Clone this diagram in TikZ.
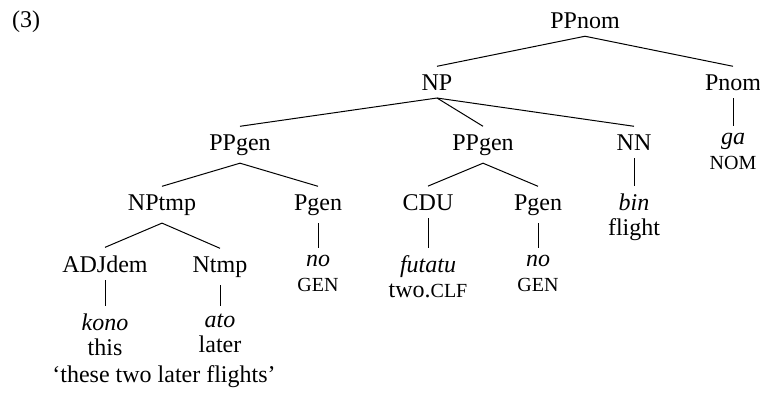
\documentclass[tikz,border=0pt]{standalone}
\usepackage{fontspec}
\setmainfont{Liberation Serif}
\newcommand\smc[1]{{\fontsize{10}{12.5}\selectfont #1}}
\begin{document}
\begin{tikzpicture}[x=0.5pt,y=-0.5pt,
  cat/.style={anchor=base, inner sep=0pt, outer sep=0pt, outer ysep=4pt, font=\fontsize{12}{12.5}\selectfont},
  leaf/.style={anchor=north, inner sep=0pt, outer sep=0pt, outer ysep=4pt, align=center, font=\fontsize{12}{12.5}\selectfont},
  plain/.style={anchor=base, inner sep=0pt, font=\fontsize{12}{12.5}\selectfont},
  branch/.style={line width=0.5pt}]
\useasboundingbox (0,0) rectangle (760,392);
% example number
\node[plain] (ex) at (26,27) {(3)};
% categories
\node[cat] (PPnom) at (585,28) {PPnom};
\node[cat] (NP) at (437,90) {NP};
\node[cat] (Pnom) at (733,90) {Pnom};
\node[cat] (PPgenA) at (240,150) {PPgen};
\node[cat] (PPgenB) at (483,150) {PPgen};
\node[cat] (NN) at (634,150) {NN};
\node[cat] (NPtmp) at (162,210) {NPtmp};
\node[cat] (PgenA) at (318,210) {Pgen};
\node[cat] (CDU) at (428,210) {CDU};
\node[cat] (PgenB) at (538,210) {Pgen};
\node[cat] (ADJdem) at (105,272) {ADJdem};
\node[cat] (Ntmp) at (220,272) {Ntmp};
% leaves
\node[leaf] (ga) at (733,125.6) {\textit{ga}\\\smc{NOM}};
\node[leaf] (bin) at (634,185.6) {\textit{bin}\\flight};
\node[leaf] (noA) at (318,247.6) {\textit{no}\\\smc{GEN}};
\node[leaf] (futatu) at (428,247.6) {\textit{futatu}\\two.\smc{CLF}};
\node[leaf] (noB) at (538,247.6) {\textit{no}\\\smc{GEN}};
\node[leaf] (kono) at (105,305.6) {\textit{kono}\\this};
\node[leaf] (ato) at (220,305.6) {\textit{ato}\\later};
% translation
\node[plain] (trans) at (164,382) {`these two later flights'};
% branches
\draw[branch] (PPnom.south) -- (NP.north);
\draw[branch] (PPnom.south) -- (Pnom.north);
\draw[branch] (NP.south) -- (PPgenA.north);
\draw[branch] (NP.south) -- (PPgenB.north);
\draw[branch] (NP.south) -- (NN.north);
\draw[branch] (Pnom.south) -- (ga.north);
\draw[branch] (PPgenA.south) -- (NPtmp.north);
\draw[branch] (PPgenA.south) -- (PgenA.north);
\draw[branch] (PPgenB.south) -- (CDU.north);
\draw[branch] (PPgenB.south) -- (PgenB.north);
\draw[branch] (NN.south) -- (bin.north);
\draw[branch] (NPtmp.south) -- (ADJdem.north);
\draw[branch] (NPtmp.south) -- (Ntmp.north);
\draw[branch] (PgenA.south) -- (noA.north);
\draw[branch] (CDU.south) -- (futatu.north);
\draw[branch] (PgenB.south) -- (noB.north);
\draw[branch] (ADJdem.south) -- (kono.north);
\draw[branch] (Ntmp.south) -- (ato.north);
\end{tikzpicture}
\end{document}
